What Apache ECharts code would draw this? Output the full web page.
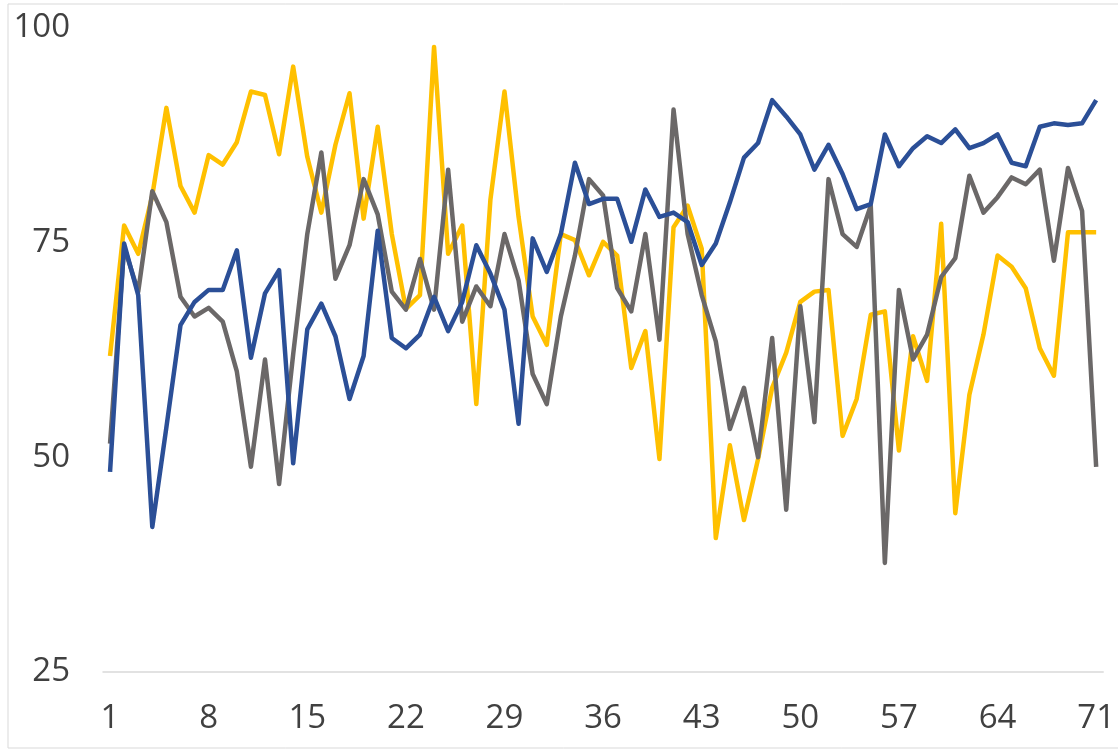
<!DOCTYPE html>
<html>
<head>
<meta charset="utf-8">
<script src="https://cdn.jsdelivr.net/npm/echarts@6/dist/echarts.min.js"></script>
<style>
  html, body { margin: 0; padding: 0; background: #fff; }
  #main { width: 1118px; height: 752px; }
</style>
</head>
<body>
<div id="main"></div>
<script>
// categories 1..71
const categories = [];
for (let i = 1; i <= 71; i++) categories.push(String(i));

const yellowValues = [
  61.8, 77.0, 73.7, 80.5, 90.7, 81.6, 78.5, 85.2, 84.1, 86.7,
  92.6, 92.2, 85.3, 95.5, 85.0, 78.5, 86.4, 92.4, 77.8, 88.5,
  76.0, 67.3, 68.9, 97.8, 73.7, 77.0, 56.2, 80.0, 92.6, 78.0,
  66.4, 63.1, 76.0, 75.3, 71.2, 75.1, 73.5, 60.4, 64.7, 49.8,
  76.8, 79.3, 74.3, 40.6, 51.4, 42.7, 49.8, 58.1, 62.2, 68.1,
  69.3, 69.5, 52.5, 56.8, 66.6, 67.0, 50.8, 64.1, 58.9, 77.2,
  43.5, 57.3, 64.3, 73.5, 72.2, 69.7, 62.7, 59.5, 76.2, 76.2,
  76.2
];

const blueValues = [
  48.3, 74.9, 68.9, 41.9, 53.5, 65.4, 68.1, 69.5, 69.5, 74.1,
  61.6, 69.1, 71.8, 49.3, 64.9, 67.9, 64.1, 56.8, 61.8, 76.4,
  63.9, 62.7, 64.3, 68.7, 64.7, 68.1, 74.7, 71.4, 67.2, 53.9,
  75.5, 71.6, 76.0, 84.3, 79.5, 80.1, 80.1, 75.1, 81.2, 78.0,
  78.5, 77.4, 72.4, 74.9, 79.7, 84.9, 86.6, 91.6, 89.7, 87.6,
  83.5, 86.4, 83.0, 78.9, 79.5, 87.6, 83.9, 86.0, 87.4, 86.6,
  88.2, 86.0, 86.6, 87.6, 84.3, 83.9, 88.5, 88.9, 88.7, 88.9,
  91.6
];

const grayValues = [
  51.6, 74.5, 69.3, 81.0, 77.4, 68.7, 66.4, 67.4, 65.8, 60.0,
  48.9, 61.4, 46.9, 62.0, 76.0, 85.5, 70.8, 74.7, 82.4, 78.3,
  69.3, 67.2, 73.1, 67.2, 83.5, 65.8, 69.9, 67.6, 76.0, 70.6,
  59.7, 56.2, 66.4, 73.5, 82.4, 80.5, 69.7, 67.0, 76.0, 63.7,
  90.5, 76.0, 68.9, 63.5, 53.3, 58.1, 50.0, 63.9, 43.9, 67.6,
  54.1, 82.4, 76.0, 74.5, 79.3, 37.7, 69.5, 61.4, 64.3, 71.0,
  73.2, 82.8, 78.5, 80.3, 82.6, 81.8, 83.5, 72.9, 83.7, 78.7,
  48.9
];

const yMin = 25, yMax = 100, yStep = 25;

const labelFont = '"Open Sans", sans-serif';

function lineSeries(name, data, color) {
  return {
    name: name,
    type: 'line',
    data: data,
    symbol: 'none',
    smooth: false,
    lineStyle: { color: color, width: 4.5, join: 'round' },
    itemStyle: { color: color },
    animation: false
  };
}

const chart = echarts.init(document.getElementById('main'));
chart.setOption({
  backgroundColor: '#ffffff',
  animation: false,
  grid: { left: 103, right: 11, top: 28, bottom: 80, containLabel: false },
  graphic: [{
    type: 'rect',
    shape: { x: 8, y: 4, width: 1130, height: 744 },
    style: { fill: 'none', stroke: '#d9d9d9', lineWidth: 1 },
    silent: true,
    z: -1
  }],
  xAxis: {
    type: 'category',
    data: categories,
    boundaryGap: true,
    axisLine: { show: true, lineStyle: { color: '#d9d9d9', width: 1.5 } },
    axisTick: { show: false },
    axisLabel: {
      interval: 6,
      margin: 30,
      color: '#404040',
      fontSize: 33,
      fontFamily: labelFont
    },
    splitLine: { show: false }
  },
  yAxis: {
    type: 'value',
    min: yMin,
    max: yMax,
    interval: yStep,
    axisLine: { show: false },
    axisTick: { show: false },
    axisLabel: {
      margin: 33,
      color: '#404040',
      fontSize: 33,
      fontFamily: labelFont
    },
    splitLine: { show: false }
  },
  series: [
    lineSeries('Yellow', yellowValues, '#FFC000'),
    lineSeries('Gray', grayValues, '#6B6868'),
    lineSeries('Blue', blueValues, '#2B4F97')
  ]
});
</script>
</body>
</html>
